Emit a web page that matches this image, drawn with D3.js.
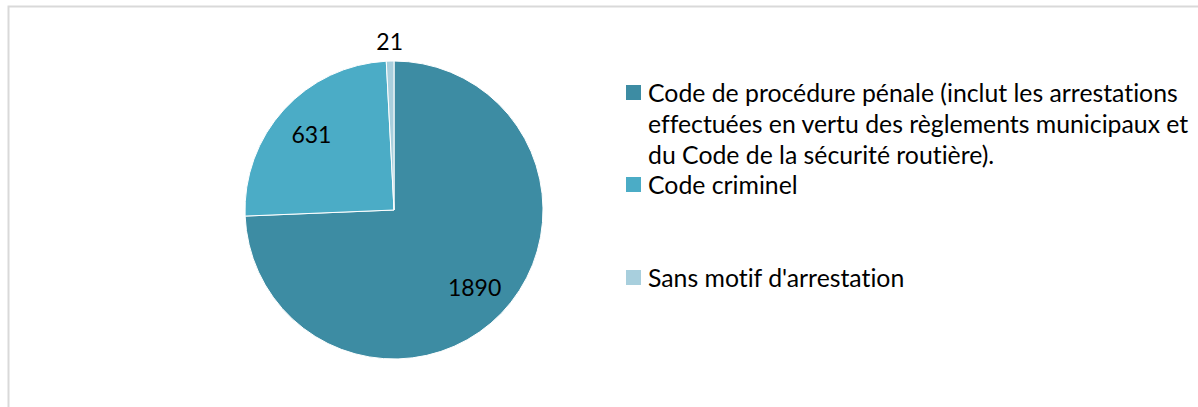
<!DOCTYPE html>
<html>
<head>
<meta charset="utf-8">
<script src="https://cdn.jsdelivr.net/npm/d3@7"></script>
<style>
  html, body { margin: 0; padding: 0; background: #fff; overflow: hidden; }
  svg { display: block; }
  text { font-variant-ligatures: none; }
</style>
</head>
<body>
<div id="chart"></div>
<script>
// Pie chart: arrests by legal basis

const categories = [
    "Code de procédure pénale (inclut les arrestations effectuées en vertu des règlements municipaux et du Code de la sécurité routière).",
    "Code criminel",
    "Sans motif d'arrestation"
];
const values = [1890, 631, 21];
const colors = ["#3d8ca3", "#4bacc6", "#a8cfdd"];

// legend lines (wrapped as in the original)
const legendLines = [
    ["Code de procédure pénale (inclut les arrestations",
     "effectuées en vertu des règlements municipaux et",
     "du Code de la sécurité routière)."],
    ["Code criminel"],
    ["Sans motif d'arrestation"]
];

const W = 1198, H = 407;
const font = "Lato, 'Noto Sans', sans-serif";

const svg = d3.select("#chart").append("svg")
    .attr("width", W)
    .attr("height", H);

// chart frame
svg.append("rect")
    .attr("x", 8.5)
    .attr("y", 6.5)
    .attr("width", W + 20)
    .attr("height", H + 20)
    .attr("fill", "#fff")
    .attr("stroke", "#d9d9d9")
    .attr("stroke-width", 2);

const cx = 394, cy = 210, radius = 149;

const data = categories.map((c, i) => ({ name: c, value: values[i], color: colors[i] }));

const pie = d3.pie()
    .value(d => d.value)
    .sort(null);

const arc = d3.arc().innerRadius(0).outerRadius(radius);
const labelArc = d3.arc().innerRadius(radius * 0.75).outerRadius(radius * 0.75);
const outerLabelArc = d3.arc().innerRadius(radius * 1.13).outerRadius(radius * 1.13);

const g = svg.append("g").attr("transform", `translate(${cx},${cy})`);
const arcs = pie(data);

g.selectAll("path.slice")
    .data(arcs)
    .enter()
    .append("path")
    .attr("class", "slice")
    .attr("d", arc)
    .attr("fill", d => d.data.color)
    .attr("stroke", "#fff")
    .attr("stroke-width", 1);

g.selectAll("text.lbl")
    .data(arcs)
    .enter()
    .append("text")
    .attr("class", "lbl")
    .attr("transform", d => {
        const small = (d.endAngle - d.startAngle) < 0.2;
        const [x, y] = (small ? outerLabelArc : labelArc).centroid(d);
        return `translate(${x},${y})`;
    })
    .attr("text-anchor", "middle")
    .attr("dy", "0.36em")
    .style("font-family", font)
    .style("font-size", "23px")
    .attr("fill", "#000")
    .text(d => d.data.value);

// Legend — fit the font so that the first line has the original width
const legendX = 626, textX = 648;
const probe = svg.append("text")
    .style("font-family", font)
    .style("font-size", "100px")
    .text(legendLines[0][0]);
const probeW = probe.node().getComputedTextLength();
probe.remove();
const legendSize = Math.min(26, 100 * 530 / probeW);

const entryTop = [85, 177, 270]; // top of each swatch
const lineStep = 31;

const legend = svg.append("g");
data.forEach((d, i) => {
    legend.append("rect")
        .attr("x", legendX)
        .attr("y", entryTop[i])
        .attr("width", 15)
        .attr("height", 15)
        .attr("fill", d.color);
    legendLines[i].forEach((line, j) => {
        legend.append("text")
            .attr("x", textX)
            .attr("y", entryTop[i] + 7.5 + j * lineStep)
            .attr("dy", "0.4em")
            .style("font-family", font)
            .style("font-size", legendSize + "px")
            .attr("fill", "#000")
            .text(line);
    });
});
</script>
</body>
</html>
